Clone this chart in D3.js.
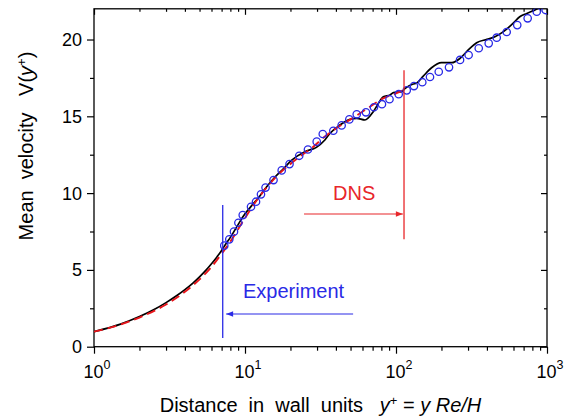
<!DOCTYPE html>
<html><head><meta charset="utf-8">
<script src="https://cdn.jsdelivr.net/npm/d3@7"></script>
<style>
body{margin:0;background:#fff}
svg{display:block}
text{font-family:"Liberation Sans",Arial,Helvetica,sans-serif;fill:#000}
</style></head>
<body><svg id="c" width="574" height="416"></svg>
<script>
// ---- data ----
const blackYp = [1,1.5,2,2.5,3,3.5,4,4.5,5,5.5,6,6.5,7,7.5,8,9,10,11,12.5,13.5,15.8,18,20.4,24.9,29.7,33.8,36.6,42.5,49.6,55,62.3,70.7,78.3,82.4,91.3,96.2,109,114.5,130,136.6,151,172,200,234,266,301,342,400,452,515,595,660,735,850,1000];
const blackV  = [0.98,1.47,1.96,2.42,2.87,3.3,3.72,4.13,4.55,4.97,5.4,5.83,6.27,6.72,7.12,7.95,8.65,9.15,9.8,10.25,11.05,11.6,12.15,12.7,12.98,13.46,13.9,14.43,14.8,14.87,14.76,15.3,16.0,16.28,16.39,16.54,16.6,16.8,17.1,17.15,17.6,18.16,18.49,18.49,18.78,19.32,19.79,20.01,20.18,20.51,21.05,21.48,21.7,21.97,22.4];
const redYp = [1,1.5,2,3,4,5,6,7,8,9.75,12,14,16.6,20,24,27.6,33,41.4,50,65.5,81.5,100,112];
const redV  = [0.98,1.44,1.9,2.75,3.57,4.38,5.2,6.05,6.85,8.2,9.55,10.4,11.2,11.9,12.5,12.92,13.6,14.3,14.8,15.55,16.15,16.5,16.7];
const expYp = [7.29,7.87,8.45,9.04,9.66,10.96,11.83,12.76,13.68,15.45,17.5,19.72,22.86,26.12,29.85,32.73,38.46,43.65,49.09,54.95,63.24,71.45,80.72,90.57,104.2,117.8,131.5,149.3,167.9,191.9,224.4,265.5,302.7,353.2,411.1,464.5,540.8,635.3,744.7,855.1,979.5];
const expV  = [6.58,6.99,7.49,8.07,8.57,9.11,9.44,9.92,10.36,10.85,11.48,11.89,12.43,12.84,13.35,13.85,14.06,14.41,14.80,15.13,15.26,15.59,15.79,16.11,16.44,16.69,16.97,17.22,17.56,17.90,18.19,18.67,18.99,19.43,19.75,20.12,20.49,20.94,21.38,21.81,21.92];
const xMajor = [1,10,100,1000];
const xMajorExp = ["0","1","2","3"];
const yMajor = [0,5,10,15,20];
const yMinor = [2.5,7.5,12.5,17.5];
// annotations (data coords)
const expLineX = 7.12, expLineV = [0.57, 9.22];
const expArrow = {from:52, to:7.5, v:2.13};
const dnsLineX = 113, dnsLineV = [7.0, 18.0];
const dnsArrow = {from:24.6, to:111, v:8.64};

// ---- layout ----
const L=94, R=547, T=8.8, B=346.7;
const svg = d3.select("#c");
const x = d3.scaleLog().domain([1,1000]).range([L,R]);
const y = d3.scaleLinear().domain([0,22]).range([B,T]);
const xMinor = [];
for (let d=1; d<1000; d*=10) for (let k=2;k<=9;k++) xMinor.push(d*k);

svg.append("defs").append("clipPath").attr("id","clip")
  .append("rect").attr("x",L).attr("y",T).attr("width",R-L).attr("height",B-T);

// axes
function styleAxis(g){ g.select(".domain").remove(); g.selectAll("line").attr("stroke","#000").attr("stroke-width",1.2); g.selectAll("text").remove(); }
svg.append("g").attr("transform",`translate(0,${B})`).call(d3.axisBottom(x).tickValues(xMajor).tickSize(7).tickFormat("")).call(styleAxis);
svg.append("g").attr("transform",`translate(0,${B})`).call(d3.axisBottom(x).tickValues(xMinor).tickSize(4).tickFormat("")).call(styleAxis);
svg.append("g").attr("transform",`translate(0,${T})`).call(d3.axisBottom(x).tickValues(xMajor).tickSize(6).tickFormat("")).call(styleAxis);
svg.append("g").attr("transform",`translate(0,${T})`).call(d3.axisBottom(x).tickValues(xMinor).tickSize(3).tickFormat("")).call(styleAxis);
svg.append("g").attr("transform",`translate(${L},0)`).call(d3.axisLeft(y).tickValues(yMajor).tickSize(7).tickFormat("")).call(styleAxis);
svg.append("g").attr("transform",`translate(${L},0)`).call(d3.axisLeft(y).tickValues(yMinor).tickSize(4).tickFormat("")).call(styleAxis);
svg.append("g").attr("transform",`translate(${R},0)`).call(d3.axisLeft(y).tickValues(yMajor).tickSize(6).tickFormat("")).call(styleAxis);
svg.append("g").attr("transform",`translate(${R},0)`).call(d3.axisLeft(y).tickValues(yMinor).tickSize(3).tickFormat("")).call(styleAxis);

svg.append("rect").attr("x",L).attr("y",T).attr("width",R-L).attr("height",B-T)
  .attr("fill","none").attr("stroke","#000").attr("stroke-width",1.3);

// tick labels
svg.selectAll(".yl").data(yMajor).enter().append("text")
  .attr("x",L-12).attr("y",d=>y(d)).attr("dy","0.36em").attr("text-anchor","end")
  .attr("font-size",18).text(d=>d);
const xl = svg.selectAll(".xl").data(xMajor).enter().append("text")
  .attr("x",d=>x(d)+3).attr("y",378).attr("text-anchor","middle").attr("font-size",18);
xl.append("tspan").text("10");
xl.append("tspan").attr("dy",-9).attr("font-size",12.5).text((d,i)=>xMajorExp[i]);

// axis titles
const xt = svg.append("text").attr("x",(L+R)/2).attr("y",411.5).attr("text-anchor","middle")
  .attr("font-size",20).style("white-space","pre");
xt.append("tspan").text("Distance  in  wall  units   ");
xt.append("tspan").attr("font-style","italic").text("y");
xt.append("tspan").attr("dy",-7).attr("font-size",13).text("+");
xt.append("tspan").attr("dy",7).text(" = ");
xt.append("tspan").attr("font-style","italic").text("y Re/H");

const yt = svg.append("text").attr("transform","translate(33,146) rotate(-90)")
  .attr("text-anchor","middle").attr("font-size",20).style("white-space","pre");
yt.append("tspan").text("Mean  velocity   V(");
yt.append("tspan").attr("font-style","italic").text("y");
yt.append("tspan").attr("dy",-7).attr("font-size",13).text("+");
yt.append("tspan").attr("dy",7).text(")");

// curves
const plot = svg.append("g").attr("clip-path","url(#clip)");
const line = d3.line().x(d=>x(d[0])).y(d=>y(d[1])).curve(d3.curveMonotoneX);
plot.append("path").datum(blackYp.map((v,i)=>[v,blackV[i]])).attr("d",line)
  .attr("fill","none").attr("stroke","#000").attr("stroke-width",1.7);
plot.append("path").datum(redYp.map((v,i)=>[v,redV[i]])).attr("d",line)
  .attr("fill","none").attr("stroke","#e8141a").attr("stroke-width",1.9).attr("stroke-dasharray","9,5");
plot.selectAll("circle").data(expYp.map((v,i)=>[v,expV[i]])).enter().append("circle")
  .attr("cx",d=>x(d[0])).attr("cy",d=>y(d[1])).attr("r",3.7)
  .attr("fill","none").attr("stroke","#2a2ae6").attr("stroke-width",1.3);

// annotations
const blue="#2a2ae6", red="#e8262a";
svg.append("line").attr("x1",x(expLineX)).attr("x2",x(expLineX)).attr("y1",y(expLineV[0])).attr("y2",y(expLineV[1]))
  .attr("stroke",blue).attr("stroke-width",1.3);
svg.append("line").attr("x1",x(expArrow.from)).attr("x2",x(expArrow.to)).attr("y1",y(expArrow.v)).attr("y2",y(expArrow.v))
  .attr("stroke",blue).attr("stroke-width",1.2);
{ const tx=x(expArrow.to), ty=y(expArrow.v);
  svg.append("path").attr("d",`M${tx},${ty}L${tx+7},${ty-2.8}L${tx+7},${ty+2.8}Z`).attr("fill",blue); }
svg.append("text").attr("x",x(9.7)).attr("y",y(3.19)).attr("font-size",20).style("fill",blue).text("Experiment");

svg.append("line").attr("x1",x(dnsLineX)).attr("x2",x(dnsLineX)).attr("y1",y(dnsLineV[0])).attr("y2",y(dnsLineV[1]))
  .attr("stroke",red).attr("stroke-width",1.3);
svg.append("line").attr("x1",x(dnsArrow.from)).attr("x2",x(dnsArrow.to)).attr("y1",y(dnsArrow.v)).attr("y2",y(dnsArrow.v))
  .attr("stroke",red).attr("stroke-width",1.2);
{ const tx=x(dnsArrow.to), ty=y(dnsArrow.v);
  svg.append("path").attr("d",`M${tx},${ty}L${tx-7},${ty-2.8}L${tx-7},${ty+2.8}Z`).attr("fill",red); }
svg.append("text").attr("x",x(38.3)).attr("y",y(9.55)).attr("font-size",20).style("fill",red).text("DNS");
</script></body></html>
